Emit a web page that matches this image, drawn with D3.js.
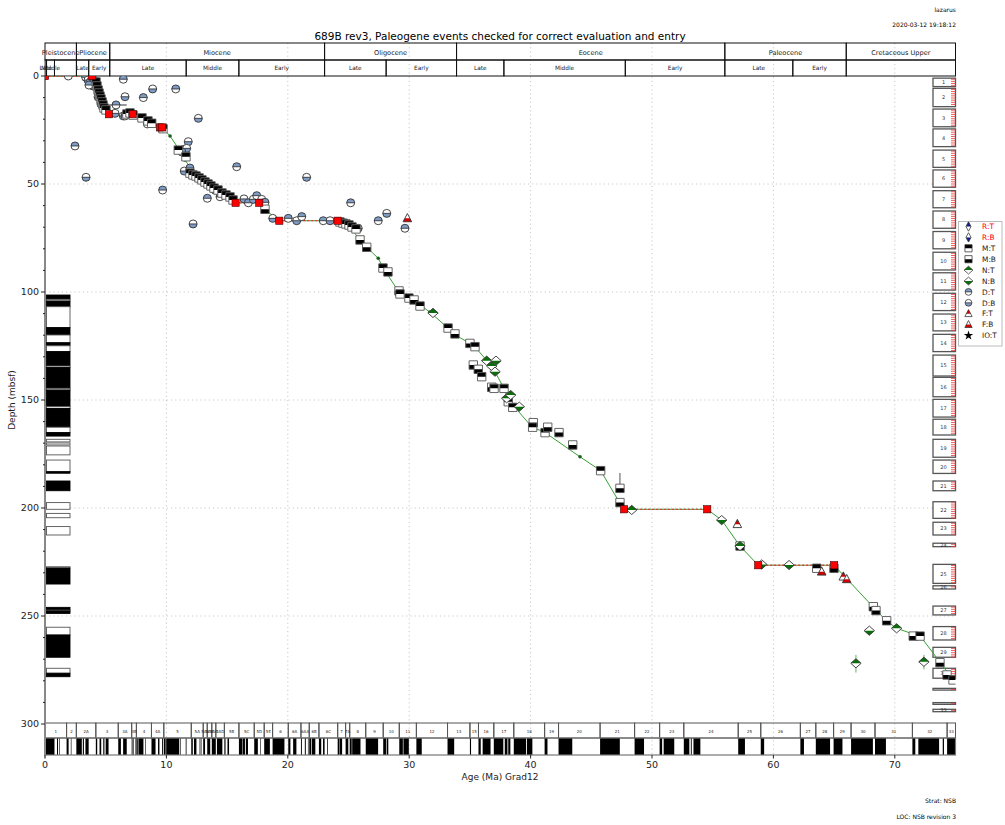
<!DOCTYPE html>
<html>
<head>
<meta charset="utf-8">
<script src="https://cdn.jsdelivr.net/npm/d3@7"></script>
<style>
  body { margin: 0; background: #fff; }
  text { font-family: "DejaVu Sans", sans-serif; }
</style>
</head>
<body>
<svg id="chart" width="1005" height="825"></svg>
<script>
// ---------- data ----------
const ageTicks = [0, 10, 20, 30, 40, 50, 60, 70];
const depthTicks = [0, 50, 100, 150, 200, 250, 300];

const epochs = [
  ["Pleistocene", 0, 2.588], ["Pliocene", 2.588, 5.333], ["Miocene", 5.333, 23.03],
  ["Oligocene", 23.03, 33.9], ["Eocene", 33.9, 56.0], ["Paleocene", 56.0, 66.0],
  ["Cretaceous Upper", 66.0, 75]
];
const subepochs = [
  ["Late", 0.0117, 0.126], ["Middle", 0.126, 0.781], ["", 0.781, 2.588],
  ["Late", 2.588, 3.6], ["Early", 3.6, 5.333],
  ["Late", 5.333, 11.63], ["Middle", 11.63, 15.97], ["Early", 15.97, 23.03],
  ["Late", 23.03, 28.1], ["Early", 28.1, 33.9],
  ["Late", 33.9, 37.8], ["Middle", 37.8, 47.8], ["Early", 47.8, 56.0],
  ["Late", 56.0, 61.6], ["Early", 61.6, 66.0], ["", 66.0, 75]
];

const chronNames = ["1","2","2A","3","3A","3B","4","4A","5","5A","5AA","5AB","5AC","5AD","5B","5C","5D","5E",
  "6","6A","6AA","6B","6C","7","7A","8","9","10","11","12","13","15","16","17","18","19","20","21","22","23",
  "24","25","26","27","28","29","30","31","32","33"];
const chronStarts = [0,1.778,2.581,4.187,6.033,7.140,7.528,8.769,9.786,12.049,13.032,13.363,13.739,14.070,14.775,
  15.974,17.235,18.056,18.748,20.040,21.083,21.767,22.564,24.109,24.761,25.099,26.420,27.859,29.183,30.591,33.157,
  35.002,35.706,36.969,38.615,41.154,42.301,45.724,48.566,50.628,52.620,57.101,58.959,62.221,63.494,64.958,66.398,
  68.369,71.449,74.309];

// normal-polarity intervals (Ma)
const normalPolarity = [
  [0,0.781],[0.988,1.072],[1.173,1.185],[1.778,1.945],[2.128,2.148],[2.581,3.032],[3.116,3.207],[3.330,3.596],
  [4.187,4.300],[4.493,4.631],[4.799,4.896],[4.997,5.235],[6.033,6.252],[6.436,6.733],[7.140,7.212],[7.251,7.285],
  [7.454,7.489],[7.528,7.642],[7.695,8.108],[8.254,8.300],[8.771,9.105],[9.311,9.426],[9.647,9.721],[9.786,9.937],
  [9.984,11.056],[11.146,11.188],[11.592,11.657],[12.049,12.174],[12.272,12.474],[12.735,12.770],[12.829,12.887],
  [13.032,13.183],[13.363,13.608],[13.739,14.070],[14.163,14.609],[14.775,14.870],[15.032,15.160],[15.974,16.268],
  [16.303,16.472],[16.543,16.721],[17.235,17.533],[17.717,17.740],[18.056,18.524],[18.748,19.722],[20.040,20.213],
  [20.439,20.709],[21.083,21.159],[21.403,21.483],[21.659,21.688],[21.767,21.936],[21.992,22.268],[22.564,22.754],
  [22.902,23.030],[23.233,23.295],[24.109,24.233],[24.262,24.474],[24.761,24.984],[25.099,25.264],[25.304,25.987],
  [26.420,27.439],[27.859,28.087],[28.141,28.278],[29.183,29.477],[29.527,29.970],[30.591,31.034],[33.157,33.705],
  [35.002,35.094],[35.706,35.892],[36.051,36.700],[36.969,37.753],[37.872,38.093],[38.159,38.333],[38.615,39.627],
  [39.698,40.145],[41.154,41.390],[42.301,43.432],[45.724,47.349],[48.566,49.344],[50.628,50.835],[50.961,51.833],
  [52.620,53.074],[53.199,53.274],[53.416,53.983],[57.101,57.656],[58.959,59.237],[62.221,62.517],[63.494,64.667],
  [64.958,65.688],[66.398,68.196],[68.369,69.269],[71.449,71.689],[71.939,73.649],[73.949,74.049],[74.309,75]
];

// cores: number, top (mbsf), bottom (mbsf)
const coreNumbers = [1,2,3,4,5,6,7,8,9,10,11,12,13,14,15,16,17,18,19,20,21,22,23,24,25,26,27,28,29,30,31,32,33];
const coreTops =    [1.0,5.7,15.3,24.5,34.3,43.5,53.1,62.5,72.0,81.6,91.1,100.6,110.2,119.6,129.2,139.5,149.7,158.9,
  168.2,177.8,187.5,197.1,206.6,216.3,226.1,236.0,245.4,254.9,264.5,274.2,283.5,290.1,293.2];
const coreBottoms = [4.9,14.2,23.5,32.7,42.3,51.5,61.0,70.5,80.0,89.8,99.1,108.6,118.0,127.6,138.9,148.5,157.9,166.2,
  176.5,184.0,192.0,204.8,212.5,217.9,234.9,237.5,249.5,261.1,269.1,278.8,284.3,290.9,294.3];

// downhole magnetic polarity: top, bottom, normal(1)/reversed(0)
const magTop =    [101.4,103.4,104.2,106.8,116.5,119.9,123.5,124.9,127.6,134.3,135.0,144.6,145.4,153.1,153.9,162.6,165.1,
  168.2,169.9,171.3,177.8,183.2,187.5,197.5,202.5,208.6,227.2,227.8,246.0,247.3,247.7,255.2,258.8,274.2,276.5];
const magBottom = [103.4,104.2,106.8,116.5,119.9,123.5,124.9,127.6,134.3,135.0,144.6,145.4,153.1,153.9,162.6,165.1,166.7,
  169.4,170.8,175.4,183.2,183.9,192.0,200.6,204.5,212.5,227.8,235.2,247.3,247.7,248.8,258.8,269.1,276.5,278.1];
const magNormal = [1,0,1,0,1,0,1,0,1,0,1,0,1,0,1,0,1, 0,0,0,0,1,1,0,0,0,0,1,1,0,1,0,1,0,1];

// line of correlation (age Ma, depth mbsf)
const locAge = [0,3.85,4.39,4.53,4.94,5.27,7.22,8.32,9.47,9.66,10.3,10.96,11.53,12.2,13.3,15.24,15.7,17.65,18.1,19.3,
  24.1,25.1,25.95,26.5,27.45,27.87,29.15,30.0,30.9,31.7,33.2,33.8,35.0,35.4,36.4,37.07,37.8,38.16,38.7,40.1,41.2,
  44.07,45.77,47.36,47.7,54.55,55.74,57.25,58.75,65.0,66.0,68.2,69.3,70.15,71.5,72.1,73.7,74.8];
const locDepth = [0,0,4.2,8.8,15.0,17.7,17.7,20.4,23.8,23.8,27.8,33.3,38.9,44.3,49.7,56.6,58.7,58.7,61.7,67.0,
  67.0,69.8,75.9,79.3,84.4,89.0,100.0,103.7,106.0,109.3,116.7,119.9,123.8,125.3,131.8,136.9,144.6,150.0,153.4,162.4,
  165.1,176.3,182.7,197.8,200.6,200.6,205.6,217.6,226.5,226.5,232.5,245.7,252.2,255.7,258.3,259.3,271.2,279.6];
// hiatuses: age from, age to, depth
const hiatusFrom = [0, 5.27, 9.47, 15.7, 19.3, 47.7, 58.75];
const hiatusTo   = [3.85, 7.22, 9.66, 17.65, 24.1, 54.55, 65.0];
const hiatusDepth = [0, 17.7, 23.8, 58.7, 67.0, 200.6, 226.5];

// datum events: [age, depth, T|B]
const diatomEvents = [
  [1.92,0,"T"],[3.35,0.6,"T"],[3.54,1.9,"B"],[3.71,2.8,"T"],[3.87,3.7,"B"],[4.04,1.9,"T"],[3.95,4.6,"B"],[3.62,4.2,"T"],
  [4.37,9.7,"B"],[4.61,13.0,"T"],[5.85,13.4,"T"],[5.77,17.3,"B"],[6.45,1.5,"T"],[6.59,9.6,"B"],[8.1,10.0,"T"],
  [8.87,6.0,"B"],[10.77,6.0,"T"],[6.45,18.5,"B"],[6.59,18.5,"T"],[6.84,17.6,"B"],[8.43,22.2,"T"],[12.63,19.6,"B"],
  [2.47,32.4,"T"],[3.38,46.9,"B"],[9.69,52.8,"T"],[11.8,30.4,"B"],[11.47,33.9,"T"],[11.67,33.5,"B"],[11.28,35.2,"T"],
  [11.47,44.0,"B"],[15.79,42.0,"T"],[12.2,68.5,"B"],[11.94,42.6,"T"],[12.6,47.2,"B"],[13.37,56.6,"T"],[14.0,52.8,"B"],
  [14.42,55.9,"T"],[16.39,56.9,"B"],[16.75,58.7,"T"],[17.16,57.1,"B"],[17.44,55.4,"T"],[17.85,57.1,"B"],[18.12,58.5,"T"],
  [18.76,65.9,"B"],[20.04,65.9,"T"],[20.73,67.0,"B"],[21.15,65.1,"T"],[21.55,46.9,"B"],[22.92,67.0,"T"],[23.48,67.0,"B"],
  [25.18,58.7,"T"],[25.8,70.5,"B"],[27.45,67.0,"T"],[28.15,63.6,"B"],[29.65,70.5,"T"]
];
const forameEvents = [
  [29.85,65.9,"B"],[57.03,207.5,"T"],[63.98,229.5,"B"],[65.76,231.8,"T"],[66.04,233.0,"B"]
];
const magEvents = [
  [4.2,2.8,"T"],[4.28,4.6,"T"],[4.37,6.5,"T"],[4.45,7.9,"T"],[4.53,9.3,"T"],[4.61,10.6,"T"],[4.7,12.0,"T"],
  [4.78,13.4,"T"],[4.86,14.8,"T"],[5.02,15.7,"T"],[6.75,17.6,"T"],[7.0,17.1,"T"],[7.25,18.1,"T"],[7.99,19.4,"T"],
  [8.48,20.8,"T"],[8.79,21.9,"T"],[9.72,24.4,"T"],[10.98,34.3,"T"],[11.61,37.4,"T"],[11.94,45.0,"T"],[12.19,45.8,"T"],
  [12.44,46.3,"T"],[12.69,47.2,"T"],[12.93,48.1,"T"],[13.18,49.1,"T"],[13.43,50.0,"T"],[13.67,50.9,"T"],[13.92,51.9,"T"],
  [14.25,52.8,"T"],[14.58,54.2,"T"],[14.91,55.1,"T"],[15.24,56.0,"T"],[15.49,57.4,"T"],[18.12,61.7,"B"],
  [24.3,67.6,"T"],[24.55,68.1,"T"],[24.79,68.5,"T"],[25.04,69.0,"T"],[25.29,69.9,"T"],[25.62,70.8,"T"],
  [25.95,75.9,"B"],[26.5,79.3,"B"],[27.84,88.9,"T"],[28.25,90.7,"B"],[29.16,99.5,"B"],[29.24,100.9,"T"],
  [29.98,102.8,"T"],[30.4,103.7,"B"],[30.89,106.5,"T"],[33.2,116.7,"T"],[33.77,119.4,"B"],[35.0,123.8,"B"],
  [35.42,125.3,"T"],[35.28,133.8,"B"],[35.69,135.8,"B"],[35.97,139.2,"T"],[36.8,144.1,"B"],[36.99,144.6,"T"],
  [37.81,144.6,"T"],[38.16,150.8,"T"],[38.53,153.4,"T"],[40.22,160.5,"B"],[40.17,162.6,"T"],[41.19,165.1,"T"],
  [41.41,162.6,"B"],[42.34,165.1,"B"],[43.47,170.8,"B"],[45.77,182.7,"T"],[47.36,190.9,"B"],[47.36,197.5,"B"],
  [57.25,217.6,"B"],[63.57,227.9,"T"],[64.99,227.9,"B"],[68.23,245.7,"B"],[68.45,247.5,"B"],[69.33,252.2,"B"],
  [71.52,259.3,"B"],[72.08,259.3,"T"],[73.72,271.6,"B"],[74.3,277.3,"B"],[74.8,279.6,"T"]
];
const nannoEvents = [
  [31.96,109.7,"T"],[36.38,131.8,"T"],[37.15,131.8,"B"],[36.8,134.3,"T"],[37.07,136.9,"B"],[38.03,149.2,"T"],
  [38.36,147.7,"T"],[39.07,153.1,"B"],[48.33,200.9,"T"],[55.74,205.6,"B"],[57.25,217.6,"T"],[59.04,226.1,"B"],
  [61.29,226.4,"B"],[67.9,256.8,"B"],[70.15,255.7,"T"],[66.8,271.9,"T"],[72.4,271.2,"T"]
];
// error ranges: age min, age max, depth min, depth max, group
const errorRanges = [
  [4.94,6.73,13.4,13.4,"D"],[47.36,47.36,183.8,192.5,"M"],[66.8,66.8,268.0,276.2,"N"],[72.4,72.4,268.0,274.7,"N"]
];

const legendLabels = ["R:T","R:B","M:T","M:B","N:T","N:B","D:T","D:B","F:T","F:B","IO:T"];

// ---------- layout ----------
const svg = d3.select("#chart");
const x = d3.scaleLinear().domain([0, 75]).range([45, 955.5]);
const y = d3.scaleLinear().domain([0, 300]).range([76, 724]);
const X0 = x(0), X1 = x(75);
const headTop = 43, headMid = 60, headBot = 76;
const chronTop = 723, chronMid = 738, chronBot = 755;

const defs = svg.append("defs");
defs.append("clipPath").attr("id", "clipT").append("rect").attr("x", -10).attr("y", -10).attr("width", 20).attr("height", 10);
defs.append("clipPath").attr("id", "clipB").append("rect").attr("x", -10).attr("y", 0).attr("width", 20).attr("height", 10);
defs.append("clipPath").attr("id", "plotClip").append("rect")
  .attr("x", X0).attr("y", headBot).attr("width", X1 - X0).attr("height", chronTop - headBot);

// text header
svg.append("text").attr("x", 956).attr("y", 12).attr("text-anchor", "end").attr("font-size", 6).text("lazarus");
svg.append("text").attr("x", 956).attr("y", 27).attr("text-anchor", "end").attr("font-size", 6).text("2020-03-12 19:18:12");
svg.append("text").attr("x", 500).attr("y", 40).attr("text-anchor", "middle").attr("font-size", 10.5)
  .text("689B rev3, Paleogene events checked for correct evaluation and entry");
svg.append("text").attr("x", 956).attr("y", 803).attr("text-anchor", "end").attr("font-size", 6).text("Strat: NSB");
svg.append("text").attr("x", 956).attr("y", 819).attr("text-anchor", "end").attr("font-size", 6).text("LOC: NSB revision 3");

// grid
const grid = svg.append("g").attr("stroke", "#c8c8c8").attr("stroke-width", 1).attr("stroke-dasharray", "1.2,3");
grid.selectAll("line.v").data(ageTicks.filter(t => t > 0)).join("line")
  .attr("x1", d => x(d)).attr("x2", d => x(d)).attr("y1", headTop).attr("y2", chronBot);
grid.selectAll("line.h").data(depthTicks.filter(t => t > 0 && t < 300)).join("line")
  .attr("x1", X0).attr("x2", X1).attr("y1", d => y(d)).attr("y2", d => y(d));

// epoch / subepoch header rows
const hdr = svg.append("g");
hdr.selectAll("rect.ep").data(epochs).join("rect")
  .attr("x", d => x(d[1])).attr("width", d => x(Math.min(d[2], 75)) - x(d[1]))
  .attr("y", headTop).attr("height", headMid - headTop)
  .attr("fill", "none").attr("stroke", "#111").attr("stroke-width", 1);
hdr.selectAll("text.ep").data(epochs).join("text")
  .attr("x", d => (x(d[1]) + x(Math.min(d[2], 75))) / 2).attr("y", headMid - 5.5)
  .attr("text-anchor", "middle").attr("font-size", 6.6).attr("fill", "#222").text(d => d[0]);
hdr.selectAll("rect.sub").data(subepochs).join("rect")
  .attr("x", d => x(d[1])).attr("width", d => x(Math.min(d[2], 75)) - x(d[1]))
  .attr("y", headMid).attr("height", headBot - headMid)
  .attr("fill", "none").attr("stroke", "#111").attr("stroke-width", 1);
hdr.selectAll("text.sub").data(subepochs).join("text")
  .attr("x", d => (x(d[1]) + x(Math.min(d[2], 75))) / 2).attr("y", headBot - 6)
  .attr("text-anchor", "middle").attr("font-size", 5.8).attr("fill", "#222").text(d => d[0]);

// chron boxes and polarity bar at bottom
const chronData = chronNames.map((n, i) => [n, chronStarts[i], i + 1 < chronStarts.length ? chronStarts[i + 1] : 75]);
const chr = svg.append("g");
chr.selectAll("rect").data(chronData).join("rect")
  .attr("x", d => x(d[1])).attr("width", d => x(d[2]) - x(d[1]))
  .attr("y", chronTop).attr("height", chronMid - chronTop)
  .attr("fill", "none").attr("stroke", "#555").attr("stroke-width", 1);
chr.selectAll("text").data(chronData).join("text")
  .attr("x", d => (x(d[1]) + x(d[2])) / 2).attr("y", chronTop + 9.5)
  .attr("text-anchor", "middle").attr("font-size", 4).attr("fill", "#222").text(d => d[0]);
svg.append("g").selectAll("rect").data(normalPolarity).join("rect")
  .attr("x", d => x(d[0])).attr("width", d => Math.max(0.6, x(d[1]) - x(d[0])))
  .attr("y", chronMid).attr("height", chronBot - chronMid).attr("fill", "#000");
svg.append("rect").attr("x", X0).attr("y", chronMid).attr("width", X1 - X0).attr("height", chronBot - chronMid)
  .attr("fill", "none").attr("stroke", "#777").attr("stroke-width", 1.2);

// downhole polarity column
const magData = magTop.map((t, i) => [t, magBottom[i], magNormal[i]]);
svg.append("g").selectAll("rect").data(magData).join("rect")
  .attr("x", 46.5).attr("width", 23.5)
  .attr("y", d => y(d[0])).attr("height", d => y(d[1]) - y(d[0]))
  .attr("fill", d => d[2] ? "#000" : "#fff").attr("stroke", d => d[2] ? "#000" : "#555").attr("stroke-width", 0.9);

// core column
const coreData = coreNumbers.map((n, i) => [n, coreTops[i], coreBottoms[i]]);
const cg = svg.append("g");
cg.selectAll("rect").data(coreData).join("rect")
  .attr("x", 933).attr("width", 22.5)
  .attr("y", d => y(d[1])).attr("height", d => Math.max(1, y(d[2]) - y(d[1])))
  .attr("fill", "#fff").attr("stroke", "#555").attr("stroke-width", 1.3);
coreData.forEach(d => {
  const ticks = d3.range(d[1] + 0.5, d[2], 1);
  cg.append("g").selectAll("line").data(ticks).join("line")
    .attr("x1", 951).attr("x2", 955.5).attr("y1", t => y(t)).attr("y2", t => y(t))
    .attr("stroke", "#e33").attr("stroke-width", 0.8);
  if (y(d[2]) - y(d[1]) > 2) {
    cg.append("text").attr("x", 943.5).attr("y", (y(d[1]) + y(d[2])) / 2 + 1.8)
      .attr("text-anchor", "middle").attr("font-size", 5).attr("fill", "#333").text(d[0]);
  }
});

// axes
const yAxis = svg.append("g");
yAxis.append("line").attr("x1", X0).attr("x2", X0).attr("y1", headBot).attr("y2", chronBot)
  .attr("stroke", "#888").attr("stroke-width", 2);
yAxis.selectAll("line.maj").data(depthTicks).join("line")
  .attr("x1", X0 - 4).attr("x2", X0).attr("y1", d => y(d)).attr("y2", d => y(d)).attr("stroke", "#222");
yAxis.selectAll("line.min").data(d3.range(10, 300, 10).filter(v => v % 50)).join("line")
  .attr("class", "min").attr("x1", X0 - 2).attr("x2", X0).attr("y1", d => y(d)).attr("y2", d => y(d)).attr("stroke", "#222");
yAxis.selectAll("text").data(depthTicks).join("text")
  .attr("x", X0 - 6).attr("y", d => y(d) + 3.4).attr("text-anchor", "end").attr("font-size", 9.5).attr("fill", "#222").text(d => d);
svg.append("text").attr("transform", `translate(15,${y(150)}) rotate(-90)`).attr("text-anchor", "middle")
  .attr("font-size", 9).attr("fill", "#222").text("Depth (mbsf)");

const xAxis = svg.append("g");
xAxis.append("line").attr("x1", X1).attr("x2", X1).attr("y1", headTop).attr("y2", chronBot).attr("stroke", "#888").attr("stroke-width", 1.2);
xAxis.selectAll("line").data(ageTicks).join("line")
  .attr("x1", d => x(d)).attr("x2", d => x(d)).attr("y1", chronBot).attr("y2", chronBot + 3.5).attr("stroke", "#222");
xAxis.selectAll("text").data(ageTicks).join("text")
  .attr("x", d => x(d)).attr("y", chronBot + 13).attr("text-anchor", "middle").attr("font-size", 9.5).attr("fill", "#222").text(d => d);
svg.append("text").attr("x", 500).attr("y", 780).attr("text-anchor", "middle").attr("font-size", 9).attr("fill", "#222")
  .text("Age (Ma) Grad12");

// ---------- marks ----------
const plot = svg.append("g").attr("clip-path", "url(#plotClip)");

// error ranges
const errColor = { D: "#777", M: "#555", N: "#5cb85c" };
plot.append("g").selectAll("line").data(errorRanges).join("line")
  .attr("x1", d => x(d[0])).attr("x2", d => x(d[1])).attr("y1", d => y(d[2])).attr("y2", d => y(d[3]))
  .attr("stroke", d => errColor[d[4]]).attr("stroke-width", d => d[4] === "D" ? 1.6 : 1);

// line of correlation
const locPts = locAge.map((a, i) => [a, locDepth[i]]);
plot.append("path").datum(locPts)
  .attr("d", d3.line().x(d => x(d[0])).y(d => y(d[1])))
  .attr("fill", "none").attr("stroke", "#35a035").attr("stroke-width", 1);
const hiatusData = hiatusFrom.map((a, i) => [a, hiatusTo[i], hiatusDepth[i]]);
plot.append("g").selectAll("line").data(hiatusData).join("line")
  .attr("x1", d => x(d[0])).attr("x2", d => x(d[1])).attr("y1", d => y(d[2])).attr("y2", d => y(d[2]))
  .attr("stroke", "#e33").attr("stroke-width", 1.3).attr("stroke-dasharray", "2,2");
plot.append("g").selectAll("circle").data(locPts).join("circle")
  .attr("cx", d => x(d[0])).attr("cy", d => y(d[1])).attr("r", 1.8).attr("fill", "#1d5e1d");

const shapes = {
  square: "M-4.2,-4.2H4.2V4.2H-4.2Z",
  diamond: "M0,-4.6L5.2,0L0,4.6L-5.2,0Z",
  circle: "M-4,0A4,4 0 1,0 4,0A4,4 0 1,0 -4,0Z",
  triangle: "M0,-4.8L4.3,3.4H-4.3Z",
  slim: "M0,-5.5L3,0L0,5.5L-3,0Z"
};
function marker(g, shape, color, kind, stroke, midline) {
  g.append("path").attr("d", shapes[shape]).attr("fill", "#fff");
  g.append("path").attr("d", shapes[shape]).attr("fill", color).attr("clip-path", `url(#clip${kind})`);
  g.append("path").attr("d", shapes[shape]).attr("fill", "none").attr("stroke", stroke).attr("stroke-width", 0.9);
  if (midline) g.append("line").attr("x1", -4).attr("x2", 4).attr("stroke", "#222").attr("stroke-width", 0.8);
}
function drawEvents(data, shape, color, stroke, midline) {
  const grp = plot.append("g");
  data.forEach(d => {
    const g = grp.append("g").attr("transform", `translate(${x(d[0])},${y(d[1])})`);
    marker(g, shape, color, d[2], stroke, midline);
  });
}
drawEvents(diatomEvents, "circle", "#7f9cc6", "#333", true);
drawEvents(magEvents, "square", "#000", "#555", false);
drawEvents(nannoEvents, "diamond", "#0a6e0a", "#333", false);
drawEvents(forameEvents, "triangle", "#d40000", "#333", false);

// hiatus end points
const hiatusEnds = hiatusData.flatMap(d => [[d[0], d[2]], [d[1], d[2]]]);
plot.append("g").selectAll("rect").data(hiatusEnds).join("rect")
  .attr("x", d => x(d[0]) - 3.6).attr("y", d => y(d[1]) - 3.6).attr("width", 7.2).attr("height", 7.2)
  .attr("fill", "#f00").attr("stroke", "#400").attr("stroke-width", 0.6);

// ---------- legend ----------
const lg = svg.append("g");
lg.append("rect").attr("x", 958.5).attr("y", 221.5).attr("width", 43.5).attr("height", 124.5)
  .attr("fill", "#fff").attr("stroke", "#bbb").attr("stroke-width", 1);
const legendStyle = [
  ["slim", "#0b1f8a", "T", "#333", false], ["slim", "#0b1f8a", "B", "#333", false],
  ["square", "#000", "T", "#333", false], ["square", "#000", "B", "#333", false],
  ["diamond", "#0a6e0a", "T", "#333", false], ["diamond", "#0a6e0a", "B", "#333", false],
  ["circle", "#7f9cc6", "T", "#333", true], ["circle", "#7f9cc6", "B", "#333", true],
  ["triangle", "#d40000", "T", "#333", false], ["triangle", "#d40000", "B", "#333", false]
];
legendLabels.forEach((lab, i) => {
  const cy = 226.5 + i * 10.9;
  const g = lg.append("g").attr("transform", `translate(968.5,${cy})`);
  if (i < legendStyle.length) {
    const s = legendStyle[i];
    g.attr("transform", `translate(968.5,${cy}) scale(0.85)`);
    marker(g, s[0], s[1], s[2], s[3], s[4]);
  } else {
    g.append("path").attr("d", d3.symbol(d3.symbolStar).size(28)()).attr("fill", "#000");
  }
  lg.append("text").attr("x", 982).attr("y", cy + 2.7).attr("font-size", 7.4)
    .attr("fill", i < 2 ? "#f00" : "#222").text(lab);
});
</script>
</body>
</html>
